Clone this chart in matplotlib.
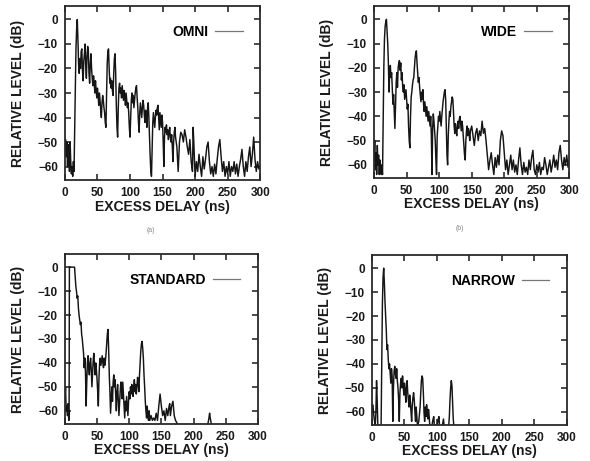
import matplotlib
matplotlib.use('Agg')
import matplotlib.pyplot as plt

# power delay profiles (delay in ns, level in dB)
omni_delay = [0, 1, 2, 3, 4, 5, 6, 7, 8, 9, 10, 11, 12, 13, 14, 15, 16, 17, 18, 19,
              20, 21, 22, 23, 24, 25, 26, 27, 28, 29, 30, 31, 32, 33, 34, 35, 36, 37, 38, 39,
              40, 41, 42, 43, 44, 45, 46, 47, 48, 49, 50, 51, 52, 53, 54, 55, 56, 57, 58, 59,
              60, 61, 62, 63, 64, 65, 66, 67, 68, 69, 70, 71, 72, 73, 74, 75, 76, 77, 78, 79,
              80, 81, 82, 83, 84, 85, 86, 87, 88, 89, 90, 91, 92, 93, 94, 95, 96, 97, 98, 99,
              100, 101, 102, 103, 104, 105, 106, 107, 108, 109, 110, 111, 112, 113, 114, 115,
              116, 117, 118, 119, 120, 121, 122, 123, 124, 125, 126, 127, 128, 129, 130, 131,
              132, 133, 134, 135, 136, 137, 138, 139, 140, 141, 142, 143, 144, 145, 146, 147,
              148, 149, 150, 151, 152, 153, 154, 155, 156, 157, 158, 159, 160, 161, 162, 163,
              164, 165, 166, 167, 168, 169, 170, 172, 174, 176, 178, 180, 182, 184, 186, 188,
              190, 192, 194, 196, 197, 198, 200, 202, 204, 206, 208, 210, 212, 214, 216, 218,
              220, 222, 224, 226, 228, 230, 232, 234, 236, 238, 240, 242, 244, 246, 248, 250,
              252, 254, 256, 258, 260, 262, 264, 266, 268, 270, 272, 274, 276, 278, 280, 282,
              284, 286, 288, 290, 292, 294, 296, 298, 300]
omni_level = [-52, -49, -56, -50, -60, -51, -54, -62, -50, -58, -63, -60, -64, -58, -62, -45, -30, -12, -4, 0,
              -8, -18, -22, -16, -20, -13, -12, -21, -25, -17, -14, -10, -19, -24, -15, -11, -13, -22, -26, -18,
              -14, -20, -24, -27, -23, -26, -30, -25, -29, -32, -28, -31, -35, -30, -33, -37, -40, -34, -31, -33,
              -36, -38, -42, -44, -30, -18, -13, -12, -20, -26, -24, -28, -25, -29, -31, -22, -16, -14, -22, -35,
              -44, -48, -36, -28, -26, -30, -28, -32, -27, -30, -33, -29, -31, -35, -30, -33, -36, -34, -38, -44,
              -48, -40, -33, -30, -34, -31, -36, -33, -30, -28, -27, -32, -36, -42, -46, -38,
              -34, -37, -40, -36, -33, -35, -39, -42, -37, -40, -44, -36, -34, -40, -48, -56,
              -62, -64, -52, -42, -38, -41, -44, -40, -37, -39, -36, -35, -40, -45, -38, -41,
              -44, -39, -42, -50, -60, -48, -44, -46, -43, -47, -45, -49, -46, -44, -48, -50,
              -47, -52, -58, -50, -46, -44, -48, -52, -62, -50, -46, -47, -50, -45, -48, -52,
              -55, -49, -58, -62, -44, -50, -64, -58, -62, -55, -60, -64, -56, -61, -57, -52,
              -50, -58, -63, -60, -64, -59, -63, -57, -52, -49, -56, -62, -58, -64, -60, -63,
              -58, -64, -60, -62, -58, -63, -59, -64, -60, -57, -53, -60, -64, -58, -62, -56,
              -52, -60, -55, -48, -57, -62, -58, -61, -60]

wide_delay = [0, 1, 2, 3, 4, 5, 6, 7, 8, 9, 10, 11, 12, 13, 14, 15, 16, 17, 18, 19,
              20, 21, 22, 23, 24, 25, 26, 27, 28, 29, 30, 31, 32, 33, 34, 35, 36, 37, 38, 39,
              40, 41, 42, 43, 44, 45, 46, 47, 48, 49, 50, 51, 52, 53, 54, 55, 56, 57, 58, 59,
              60, 61, 62, 63, 64, 65, 66, 67, 68, 69, 70, 71, 72, 73, 74, 75, 76, 77, 78, 79,
              80, 81, 82, 83, 84, 85, 86, 87, 88, 89, 90, 91, 92, 93, 94, 95, 96, 97, 98, 99,
              100, 101, 102, 103, 104, 105, 106, 107, 108, 109, 110, 111, 112, 113, 114, 115,
              116, 117, 118, 119, 120, 121, 122, 123, 124, 125, 126, 127, 128, 129, 130, 131,
              132, 133, 134, 135, 136, 137, 138, 139, 140, 141, 142, 143, 144, 145, 146, 147,
              148, 150, 152, 154, 156, 158, 160, 162, 164, 166, 168, 170, 172, 174, 176, 178,
              180, 182, 184, 186, 188, 190, 192, 194, 196, 198, 200, 202, 204, 206, 208, 210,
              212, 214, 216, 218, 220, 222, 224, 226, 228, 230, 232, 234, 236, 238, 240, 242,
              244, 246, 248, 250, 252, 254, 256, 258, 260, 262, 264, 266, 268, 270, 272, 274,
              276, 278, 280, 282, 284, 286, 288, 290, 292, 294, 296, 298, 300]
wide_level = [-58, -50, -62, -55, -64, -52, -60, -56, -64, -58, -62, -64, -60, -64, -40, -20, -8, -3, -1, 0,
              -5, -10, -18, -30, -22, -19, -24, -22, -28, -35, -31, -38, -45, -36, -26, -22, -28, -20, -18, -17,
              -21, -18, -25, -22, -28, -30, -27, -33, -31, -29, -33, -37, -35, -44, -50, -53, -40, -32, -30, -27,
              -25, -24, -20, -16, -14, -13, -18, -22, -26, -24, -28, -31, -34, -30, -33, -29, -35, -38, -34, -37,
              -40, -36, -39, -42, -38, -41, -44, -40, -48, -64, -45, -39, -42, -46, -50, -58, -64, -48, -44, -40,
              -42, -38, -41, -44, -40, -37, -34, -32, -30, -29, -33, -45, -56, -60, -48, -42,
              -38, -40, -36, -34, -32, -33, -38, -44, -47, -43, -46, -48, -44, -42, -45, -41,
              -40, -43, -46, -42, -44, -48, -52, -56, -58, -50, -46, -44, -48, -45, -47, -50,
              -46, -44, -48, -52, -47, -45, -50, -46, -48, -42, -47, -45, -50, -56, -62, -58,
              -55, -60, -64, -57, -61, -56, -60, -50, -46, -48, -55, -62, -58, -64, -60, -56,
              -62, -58, -63, -60, -64, -58, -53, -60, -64, -59, -63, -61, -64, -58, -62, -57,
              -54, -62, -64, -60, -63, -59, -64, -61, -62, -57, -60, -64, -61, -58, -63, -60,
              -56, -61, -58, -62, -55, -52, -58, -62, -57, -60, -56, -61, -58]

std_delay = [0, 1, 2, 3, 4, 5, 6, 6.5, 7, 15, 16, 17, 18, 19, 20, 21, 22, 23, 24, 25,
             26, 27, 28, 29, 30, 31, 32, 33, 34, 35, 36, 37, 38, 39, 40, 41, 42, 43, 44, 45,
             46, 47, 48, 49, 50, 51, 52, 53, 54, 55, 56, 57, 58, 59, 60, 61, 62, 63, 64, 65,
             66, 67, 68, 69, 70, 71, 72, 73, 74, 75, 76, 77, 78, 79, 80, 81, 82, 83, 84, 85,
             86, 87, 88, 89, 90, 91, 92, 93, 94, 95, 96, 97, 98, 99, 100, 101, 102, 103, 104,
             105, 106, 107, 108, 109, 110, 111, 112, 113, 114, 115, 116, 117, 118, 119, 120,
             121, 122, 123, 124, 125, 126, 127, 128, 129, 130, 131, 132, 134, 136, 138, 140,
             142, 144, 146, 148, 150, 152, 154, 156, 158, 160, 162, 163, 164, 166, 168, 170,
             172, 176, 222, 224, 225, 226, 228, 300]
std_level = [-56, -50, -60, -58, -62, -57, -64, -64, 0, 0, -4, -8, -10, -13, -12, -17, -20, -22, -24, -23,
             -28, -30, -33, -36, -42, -38, -44, -58, -48, -40, -37, -42, -45, -40, -38, -43, -50, -44, -39, -36,
             -41, -45, -40, -43, -47, -52, -58, -46, -40, -38, -41, -39, -37, -40, -42, -38, -41, -39, -36, -32,
             -28, -26, -34, -45, -52, -61, -55, -50, -56, -48, -45, -50, -47, -54, -60, -52, -49, -55, -62, -57,
             -52, -48, -50, -55, -48, -53, -58, -63, -56, -60, -54, -58, -62, -56, -52, -55, -50, -53, -49,
             -51, -54, -50, -47, -52, -49, -53, -50, -46, -48, -52, -45, -40, -35, -32, -31,
             -34, -38, -45, -50, -56, -60, -63, -58, -62, -64, -60, -64, -62, -64, -63, -64,
             -61, -64, -58, -53, -58, -62, -60, -64, -59, -62, -58, -57, -62, -58, -56, -62,
             -64, -66, -66, -63, -61, -63, -66, -66]

narrow_delay = [0, 1, 2, 3, 4, 5, 6, 7, 8, 9, 14, 15, 16, 17, 18, 19, 20, 21, 22, 23,
                24, 25, 26, 27, 28, 29, 30, 31, 32, 33, 34, 35, 36, 37, 38, 39, 40, 41, 42, 43,
                44, 45, 46, 47, 48, 49, 50, 51, 52, 53, 54, 55, 56, 57, 58, 59, 60, 61, 62, 63,
                64, 65, 66, 67, 68, 69, 70, 72, 74, 75, 76, 77, 78, 79, 80, 81, 82, 83, 84, 85,
                86, 87, 88, 89, 92, 94, 95, 96, 100, 102, 103, 104, 108, 110, 111, 118, 119, 120,
                121, 122, 123, 124, 125, 126, 300]
narrow_level = [-60, -57, -59, -62, -64, -66, -60, -47, -55, -66, -66, -40, -15, -4, 0, -6, -14, -20, -26, -34,
                -32, -38, -42, -40, -44, -48, -42, -45, -64, -50, -43, -41, -44, -46, -42, -47, -50, -55, -64, -52,
                -48, -46, -50, -45, -49, -53, -48, -51, -56, -50, -47, -52, -55, -58, -53, -56, -60, -64, -57, -54,
                -52, -55, -60, -64, -58, -62, -66, -64, -58, -52, -47, -45, -46, -52, -60, -64, -58, -62, -57, -60,
                -63, -59, -62, -66, -66, -63, -62, -66, -66, -63, -62, -66, -66, -63, -66, -66, -62, -55,
                -50, -47, -49, -56, -63, -66, -66]

panels = [
    ('OMNI', omni_delay, omni_level, [0.110, 0.6095, 0.331, 0.3775], '(a)'),
    ('WIDE', wide_delay, wide_level, [0.634, 0.6135, 0.331, 0.3735], '(b)'),
    ('STANDARD', std_delay, std_level, [0.110, 0.0803, 0.327, 0.3688], None),
    ('NARROW', narrow_delay, narrow_level, [0.6305, 0.0781, 0.3305, 0.3688], None),
]

fig = plt.figure(figsize=(5.9, 4.61), dpi=100)
txt = '#1a1a1a'
font = 'Liberation Sans'

for name, x, y, pos, cap in panels:
    ax = fig.add_axes(pos)
    ax.plot(x, y, color='#151515', lw=1.05, label=name)
    ax.set_xlim(0, 300)
    ax.set_ylim(-65.5, 5.5)
    ax.set_xticks([0, 50, 100, 150, 200, 250, 300])
    ax.set_yticks([0, -10, -20, -30, -40, -50, -60])
    ax.tick_params(direction='in', length=4, width=1.1, top=True, right=True,
                   labelsize=8.5, pad=5, colors=txt)
    for lab in ax.get_xticklabels() + ax.get_yticklabels():
        lab.set_fontweight('bold')
        lab.set_family(font)
    for sp in ax.spines.values():
        sp.set_linewidth(1.3)
        sp.set_color('#2a2a2a')
    ax.set_xlabel('EXCESS DELAY (ns)', fontsize=10, fontweight='bold', family=font, color=txt)
    ax.set_ylabel('RELATIVE LEVEL (dB)', fontsize=10, fontweight='bold', family=font, color=txt)
    ax.xaxis.set_label_coords(0.5, -0.112)
    ax.yaxis.set_label_coords(-0.205, 0.5)
    leg = ax.legend(loc='upper right', bbox_to_anchor=(0.91, 0.89), frameon=False,
                    markerfirst=False, handlelength=2.0, handletextpad=0.5,
                    borderpad=0, borderaxespad=0,
                    prop={'family': font, 'weight': 'bold', 'size': 10})
    for h in leg.get_lines():
        h.set_color('#777777')
        h.set_linewidth(0.9)
    if cap:
        ax.text(0.44, -0.29, cap, transform=ax.transAxes, fontsize=5, color='#888888',
                ha='center', va='center', family=font)

plt.savefig('out.png', dpi=100)
